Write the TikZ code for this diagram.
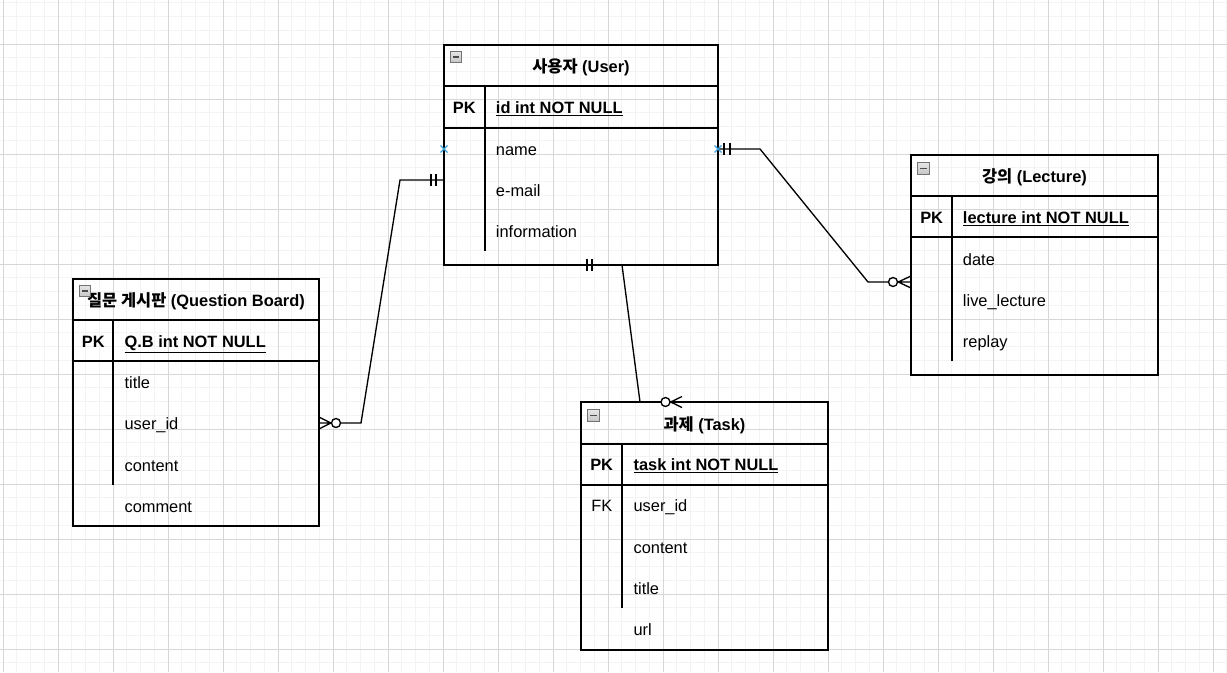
\documentclass[tikz,border=0pt]{standalone}
\usepackage{fontspec}
\setmainfont{Liberation Sans}
\newfontfamily\cjk{Noto Sans CJK KR}
\definecolor{gminor}{RGB}{243,243,243}
\definecolor{gmajor}{RGB}{215,215,215}
\definecolor{hoverblue}{RGB}{60,160,220}
\begin{document}
\begin{tikzpicture}[x=0.75pt,y=-0.75pt,
  font=\fontsize{12.3}{14}\selectfont,
  minorg/.style={line width=0.75pt, draw=gminor},
  majorg/.style={line width=0.75pt, draw=gmajor},
  tbl/.style={draw=black, line width=1pt, anchor=north west, inner sep=0, outer sep=0},
  sep/.style={draw=black, line width=1pt},
  ttl/.style={anchor=base, inner sep=0, font=\fontsize{12.3}{14}\selectfont\bfseries},
  key/.style={anchor=base west, inner sep=0, font=\fontsize{12.3}{14}\selectfont\bfseries},
  fld/.style={anchor=base west, inner sep=0},
  conn/.style={draw=black, line width=1pt},
  hole/.style={circle, draw=black, fill=white, line width=1pt, minimum size=6.75pt, inner sep=0},
  hov/.style={draw=hoverblue, line width=1pt},
  mbox/.style={draw=gray!90!black, top color=gray!20, bottom color=gray!45, line width=0.7pt, minimum size=8.6pt, inner sep=0,
    path picture={\draw[black!70, line width=1.4pt]
      ([xshift=-2.6pt]path picture bounding box.center) -- ([xshift=2.6pt]path picture bounding box.center);}}
]
\useasboundingbox (0,0) rectangle (1227,672);
% grid
\foreach \i in {0,...,89} \draw[minorg] ({3+13.75*\i},0) -- ({3+13.75*\i},672);
\foreach \j in {0,...,48} \draw[minorg] (0,{2.75+13.75*\j}) -- (1227,{2.75+13.75*\j});
\foreach \i in {0,...,22} \draw[majorg] ({3+55*\i},0) -- ({3+55*\i},672);
\foreach \j in {1,...,12} \draw[majorg] (0,{-11+55*\j}) -- (1227,{-11+55*\j});

% ---------- User ----------
\node[tbl, minimum width=205.5pt, minimum height=165pt] (user) at (444,45) {};
\draw[sep] (user.north west) ++(0,41) -- ++(274,0);
\draw[sep] (user.north west) ++(0,83) -- ++(274,0);
\draw[sep] (user.north west) ++(41,41) -- ++(0,165);
\node[ttl] (user-t) at (581,72.4) {{\cjk 사용자} (User)};
\node[key] (user-pk) at (452.7,113.4) {PK};
\node[key] (user-id) at (495.7,113.4) {\underline{id int NOT NULL}};
\node[fld] (user-f1) at (495.7,155) {name};
\node[fld] (user-f2) at (495.7,196.4) {e-mail};
\node[fld] (user-f3) at (495.7,237.4) {information};
\node[mbox] (user-m) at (456,57) {};

% ---------- Question Board ----------
\node[tbl, minimum width=184.5pt, minimum height=185.25pt] (qb) at (73,279) {};
\draw[sep] (qb.north west) ++(0,41) -- ++(246,0);
\draw[sep] (qb.north west) ++(0,82) -- ++(246,0);
\draw[sep] (qb.north west) ++(40,41) -- ++(0,165);
\node[ttl] (qb-t) at (196,306.7) {{\cjk 질문 게시판} (Question Board)};
\node[key] (qb-pk) at (81.7,347.4) {PK};
\node[key] (qb-id) at (124.3,347.4) {\underline{Q.B int NOT NULL}};
\node[fld] (qb-f1) at (124.3,388.4) {title};
\node[fld] (qb-f2) at (124.3,429.7) {user\_id};
\node[fld] (qb-f3) at (124.3,471) {content};
\node[fld] (qb-f4) at (124.3,512.2) {comment};
\node[mbox] (qb-m) at (85,291) {};

% ---------- Lecture ----------
\node[tbl, minimum width=185.25pt, minimum height=165pt] (lec) at (911,155) {};
\draw[sep] (lec.north west) ++(0,41) -- ++(247,0);
\draw[sep] (lec.north west) ++(0,82) -- ++(247,0);
\draw[sep] (lec.north west) ++(41,41) -- ++(0,165);
\node[ttl] (lec-t) at (1034.5,182.4) {{\cjk 강의} (Lecture)};
\node[key] (lec-pk) at (920,223.4) {PK};
\node[key] (lec-id) at (962.7,223.4) {\underline{lecture int NOT NULL}};
\node[fld] (lec-f1) at (962.7,265) {date};
\node[fld] (lec-f2) at (962.7,306.4) {live\_lecture};
\node[fld] (lec-f3) at (962.7,347.4) {replay};
\node[mbox] (lec-m) at (923.5,168.5) {};

% ---------- Task ----------
\node[tbl, minimum width=185.25pt, minimum height=186pt] (task) at (581,402) {};
\draw[sep] (task.north west) ++(0,42) -- ++(247,0);
\draw[sep] (task.north west) ++(0,83) -- ++(247,0);
\draw[sep] (task.north west) ++(41,42) -- ++(0,164);
\node[ttl] (task-t) at (704.5,430.7) {{\cjk 과제} (Task)};
\node[key] (task-pk) at (590,470.7) {PK};
\node[key] (task-id) at (633.3,470.7) {\underline{task int NOT NULL}};
\node[fld] (task-fk) at (591,511.7) {FK};
\node[fld] (task-f1) at (633.3,511.7) {user\_id};
\node[fld] (task-f2) at (633.3,553) {content};
\node[fld] (task-f3) at (633.3,594) {title};
\node[fld] (task-f4) at (633.3,635.7) {url};
\node[mbox] (task-m) at (593.5,415.5) {};

% ---------- connectors ----------
% User -- Question Board
\node[hole] (qb-o) at (336,423) {};
\draw[conn] (user.north west |- 0,180) -- (400,180) -- (361,423) -- (qb-o);
\draw[conn] (431,174) -- (431,186) (436,174) -- (436,186);
\draw[conn] (qb-o.west) -- (qb.north east |- 0,417)
            (qb-o.west) -- (qb.north east |- 0,423)
            (qb-o.west) -- (qb.north east |- 0,429);

% User -- Lecture
\node[hole] (lec-o) at (893,282) {};
\draw[conn] (user.north east |- 0,149) -- (760,149) -- (868,282) -- (lec-o);
\draw[conn] (724,143) -- (724,155) (730,143) -- (730,155);
\draw[conn] (lec-o.east) -- (lec.north west |- 0,276)
            (lec-o.east) -- (lec.north west |- 0,282)
            (lec-o.east) -- (lec.north west |- 0,288);

% User -- Task
\node[hole] (task-o) at (665.5,402) {};
\draw[conn] (622,265) -- (640,402) -- (task-o);
\draw[conn] (587,259) -- (587,271) (592,259) -- (592,271);
\draw[conn] (task-o.east) -- (682,396.5)
            (task-o.east) -- (682,402)
            (task-o.east) -- (682,407.5);

% hover markers
\draw[hov] (440.5,145.5) -- (447.5,152.5) (440.5,152.5) -- (447.5,145.5);
\draw[hov] (714.5,145.5) -- (721.5,152.5) (714.5,152.5) -- (721.5,145.5);
\end{tikzpicture}
\end{document}
